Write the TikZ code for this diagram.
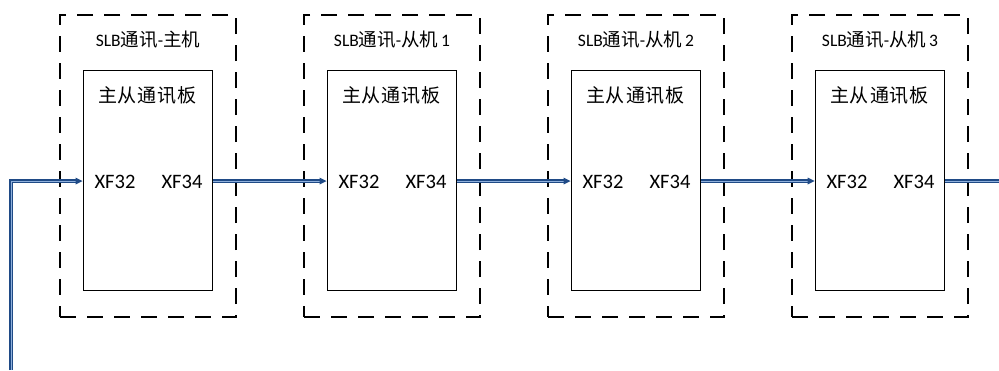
\documentclass[tikz,border=0pt]{standalone}
\usepackage{fontspec}
\setmainfont{Carlito}
\newfontfamily\cjk{Noto Sans CJK SC}
\usetikzlibrary{arrows.meta}
\definecolor{linkdark}{HTML}{1F4A86}
\definecolor{linklight}{HTML}{8FB0DC}
\newcommand{\tc}[1]{{\cjk\fontsize{18.5}{20}\selectfont #1}}
\tikzset{
  outerbox/.style={draw=black, line width=1.2pt, dash pattern=on 16pt off 11pt, minimum width=176pt, minimum height=302pt, inner sep=0pt},
  innerbox/.style={draw=black, line width=1pt, minimum width=129pt, minimum height=220pt, inner sep=0pt},
  titletext/.style={font=\fontsize{17.5}{20}\selectfont, inner sep=0pt},
  boardtext/.style={font=\cjk\fontsize{19}{22}\selectfont, inner sep=0pt},
  porttext/.style={font=\fontsize{20.5}{23}\selectfont, inner sep=0pt},
  linkline/.style={draw=linkdark, line width=3.6pt},
  linkcore/.style={draw=linklight, line width=1pt}
}
\begin{document}
\begin{tikzpicture}[x=1pt,y=-1pt]
\useasboundingbox (0,0) rectangle (999,370);
\fill[white] (0,0) rectangle (999,370);
\foreach \i/\t in {0/{SLB\tc{通讯}-\tc{主机}},1/{SLB\tc{通讯}-\tc{从机}\,1},2/{SLB\tc{通讯}-\tc{从机}\,2},3/{SLB\tc{通讯}-\tc{从机}\,3}}{
  \node[outerbox] (outer\i) at (148+244*\i,166) {};
  \node[innerbox] (inner\i) at (147.5+244*\i,180) {};
  \node[titletext] (title\i) at (148+244*\i,40) {\t};
  \node[boardtext] (board\i) at (147.5+244*\i,95) {主\kern1pt 从\kern1pt 通\kern1pt 讯\kern1pt 板};
  \node[porttext] (xfa\i) at (115+244*\i,182) {XF32};
  \node[porttext] (xfb\i) at (182+244*\i,182) {XF34};
}
\coordinate (start) at (11,370);
\coordinate (corner) at (11,181);
\coordinate (endright) at (999,181);
% left feed
\draw[linkline] (start) -- (corner) -- ([xshift=-5pt]inner0.west |- corner);
\draw[linkcore] (start) -- (corner) -- ([xshift=-6pt]inner0.west |- corner);
\fill[linkdark] (inner0.west |- corner) -- ++(-7,-3.5) -- ++(0,7) -- cycle;
\foreach \a/\b in {0/1,1/2,2/3}{
  \draw[linkline] (inner\a.east |- corner) -- ([xshift=-5pt]inner\b.west |- corner);
  \draw[linkcore] (inner\a.east |- corner) -- ([xshift=-6pt]inner\b.west |- corner);
  \fill[linkdark] (inner\b.west |- corner) -- ++(-7,-3.5) -- ++(0,7) -- cycle;
}
\draw[linkline] (inner3.east |- corner) -- (endright);
\draw[linkcore] (inner3.east |- corner) -- (endright);
\end{tikzpicture}
\end{document}
